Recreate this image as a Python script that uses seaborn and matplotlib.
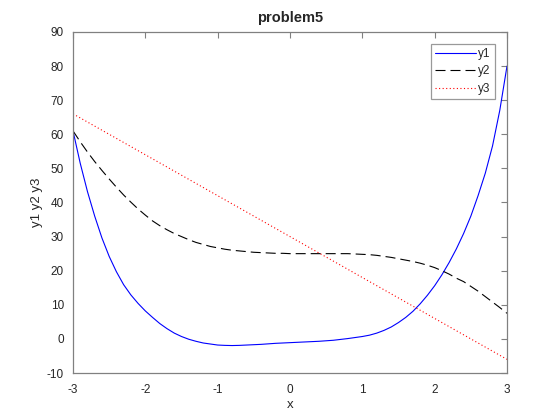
import numpy as np
import pandas as pd
import matplotlib
matplotlib.use('Agg')
import matplotlib.pyplot as plt
import seaborn as sns

# values, x step 0.1 from -3 to 3
x = [-3.0, -2.9, -2.8, -2.7, -2.6, -2.5, -2.4, -2.3, -2.2, -2.1,
     -2.0, -1.9, -1.8, -1.7, -1.6, -1.5, -1.4, -1.3, -1.2, -1.1,
     -1.0, -0.9, -0.8, -0.7, -0.6, -0.5, -0.4, -0.3, -0.2, -0.1,
     0.0, 0.1, 0.2, 0.3, 0.4, 0.5, 0.6, 0.7, 0.8, 0.9,
     1.0, 1.1, 1.2, 1.3, 1.4, 1.5, 1.6, 1.7, 1.8, 1.9,
     2.0, 2.1, 2.2, 2.3, 2.4, 2.5, 2.6, 2.7, 2.8, 2.9,
     3.0]
y1 = [61.0, 51.5, 43.2, 36.0, 29.6, 24.2, 19.7, 15.9, 12.9, 10.4,
      8.2, 6.3, 4.5, 3.0, 1.7, 0.7, -0.1, -0.7, -1.2, -1.5,
      -1.8, -1.9, -1.95, -1.9, -1.8, -1.7, -1.6, -1.45, -1.3, -1.2,
      -1.1, -1.0, -0.9, -0.8, -0.7, -0.55, -0.4, -0.15, 0.1, 0.4,
      0.7, 1.1, 1.7, 2.5, 3.5, 4.8, 6.3, 8.1, 10.3, 12.8,
      15.6, 18.8, 22.4, 26.4, 30.9, 36.0, 42.0, 48.6, 56.6, 67.0,
      80.0]
y2 = [61.0, 57.8, 54.8, 52.0, 49.4, 46.9, 44.5, 42.2, 40.1, 38.1,
      36.3, 34.6, 33.2, 32.0, 30.9, 30.0, 29.1, 28.3, 27.7, 27.1,
      26.7, 26.3, 26.0, 25.8, 25.6, 25.4, 25.3, 25.2, 25.1, 25.1,
      25.0, 25.0, 25.0, 25.0, 25.0, 25.0, 25.0, 25.0, 25.0, 24.9,
      24.8, 24.7, 24.5, 24.2, 23.9, 23.5, 23.1, 22.7, 22.2, 21.6,
      20.9, 20.0, 19.0, 17.8, 16.8, 15.4, 14.0, 12.4, 10.8, 9.2,
      7.5]
y3 = [66.0, 64.8, 63.6, 62.4, 61.2, 60.0, 58.8, 57.6, 56.4, 55.2,
      54.0, 52.8, 51.6, 50.4, 49.2, 48.0, 46.8, 45.6, 44.4, 43.2,
      42.0, 40.8, 39.6, 38.4, 37.2, 36.0, 34.8, 33.6, 32.4, 31.2,
      30.0, 28.8, 27.6, 26.4, 25.2, 24.0, 22.8, 21.6, 20.4, 19.2,
      18.0, 16.8, 15.6, 14.4, 13.2, 12.0, 10.8, 9.6, 8.4, 7.2,
      6.0, 4.8, 3.6, 2.4, 1.2, 0.0, -1.2, -2.4, -3.6, -4.8,
      -6.0]

xticks = [-3, -2, -1, 0, 1, 2, 3]
yticks = [-10, 0, 10, 20, 30, 40, 50, 60, 70, 80, 90]

df = pd.DataFrame({'x': x, 'y1': y1, 'y2': y2, 'y3': y3})

sns.set_style('white')
plt.rcParams['font.family'] = ['Liberation Sans', 'DejaVu Sans']
plt.rcParams['axes.unicode_minus'] = False

fig = plt.figure(figsize=(5.6, 4.2), dpi=100)
ax = fig.add_axes([73 / 560, 1 - 373 / 420, (507 - 73) / 560, (373 - 32) / 420])

lw = 0.8
sns.lineplot(data=df, x='x', y='y1', ax=ax, color='#0000ff', linewidth=lw, label='y1')
sns.lineplot(data=df, x='x', y='y2', ax=ax, color='black', linewidth=lw, label='y2')
ax.lines[-1].set_dashes((9, 4.5))
sns.lineplot(data=df, x='x', y='y3', ax=ax, color='#ff0000', linewidth=lw, label='y3')
ax.lines[-1].set_dashes((1, 2.2))

ax.set_xlim(-3, 3)
ax.set_ylim(-10, 90)
ax.set_xticks(xticks)
ax.set_yticks(yticks)

for sp in ax.spines.values():
    sp.set_color('#808080')
    sp.set_linewidth(0.9)
ax.tick_params(direction='in', top=True, right=True, length=4, width=0.8,
               color='#808080', labelsize=8.5, labelcolor='#262626')
ax.tick_params(axis='x', pad=8)
ax.tick_params(axis='y', pad=6.5)

ax.set_title('problem5', fontsize=10.5, fontweight='bold', pad=7)
ax.set_xlabel('x', fontsize=9.5, color='#262626', labelpad=2)
ax.set_ylabel('y1 y2 y3', fontsize=9.5, color='#262626', labelpad=3)

leg = ax.legend(loc='upper right', bbox_to_anchor=(0.972, 0.965), fontsize=8.5,
                frameon=True, fancybox=False, handlelength=3.5, handletextpad=0.15,
                borderpad=0.35, labelspacing=0.45, borderaxespad=0)
leg.get_frame().set_edgecolor('#808080')
leg.get_frame().set_linewidth(0.9)

fig.savefig('out.png', dpi=100)
